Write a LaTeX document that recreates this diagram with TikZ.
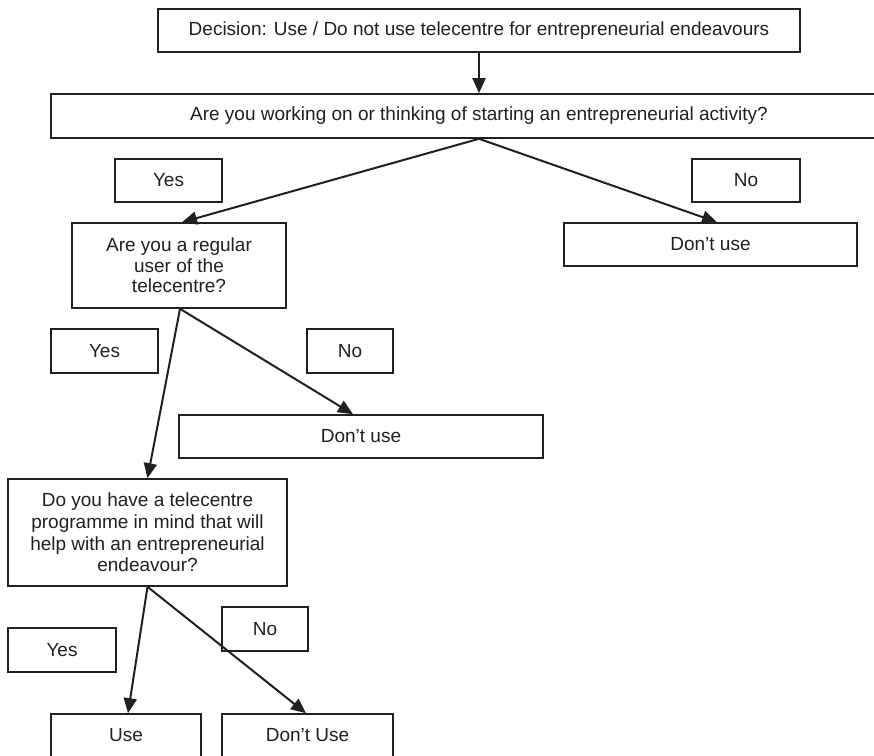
\documentclass[tikz,border=0pt]{standalone}
\usepackage{fontspec}
\setmainfont{Liberation Sans}
\usetikzlibrary{arrows.meta}
\definecolor{ink}{HTML}{231F20}
\begin{document}
\begin{tikzpicture}[x=1pt,y=-1pt,
  box/.style={draw=ink, text=ink, line width=1.6pt, inner sep=0pt, align=center,
              font=\fontsize{19}{21}\selectfont},
  arr/.style={draw=ink, line width=2pt, -{Triangle[length=15pt,width=13pt]}}]
\useasboundingbox (0,0) rectangle (874,755);
\clip (0,0) rectangle (874,755);
% boxes
\node[box, minimum width=642pt, minimum height=43pt] (top) at (479,30.5)
  {Decision: Use / Do not use telecentre for entrepreneurial endeavours};
\node[box, minimum width=856pt, minimum height=44pt] (q1) at (479,116)
  {Are you working on or thinking of starting an entrepreneurial activity?};
\node[box, minimum width=107pt, minimum height=43pt] (yes1) at (168.5,180.5) {Yes};
\node[box, minimum width=108pt, minimum height=43pt] (no1) at (746,180.5) {No};
\node[box, minimum width=214pt, minimum height=85pt,
      font=\fontsize{19}{20.5}\selectfont] (q2) at (179,265.5)
  {Are you a regular\\user of the\\telecentre?};
\node[box, minimum width=293pt, minimum height=43pt] (dont1) at (710.5,244.5) {Don’t use};
\node[box, minimum width=107pt, minimum height=44pt] (yes2) at (104.5,351) {Yes};
\node[box, minimum width=86pt, minimum height=44pt] (no2) at (350,351) {No};
\node[box, minimum width=364pt, minimum height=43pt] (dont2) at (361,436.5) {Don’t use};
\node[box, minimum width=279pt, minimum height=107pt,
      font=\fontsize{19}{21.7}\selectfont] (q3) at (147.5,532.5)
  {Do you have a telecentre\\programme in mind that will\\help with an entrepreneurial\\endeavour?};
\node[box, minimum width=86pt, minimum height=44pt] (no3) at (265,629) {No};
\node[box, minimum width=108pt, minimum height=44pt] (yes3) at (62,650) {Yes};
\node[box, minimum width=150pt, minimum height=43pt] (use) at (126,735.5) {Use};
\node[box, minimum width=171pt, minimum height=43pt] (dontuse) at (307.5,735.5) {Don’t Use};
% connectors
\draw[arr] (top.south) -- (q1.north);
\draw[arr] (q1.south) -- ([xshift=3pt]q2.north);
\draw[arr] (q1.south) -- ([xshift=6.5pt]dont1.north);
\draw[arr] ([xshift=1pt]q2.south) -- (q3.north);
\draw[arr] ([xshift=1pt]q2.south) -- ([xshift=-8pt]dont2.north);
\draw[arr] (q3.south) -- ([xshift=2pt]use.north);
\draw[arr] (q3.south) -- ([xshift=-1.5pt]dontuse.north);
\end{tikzpicture}
\end{document}
